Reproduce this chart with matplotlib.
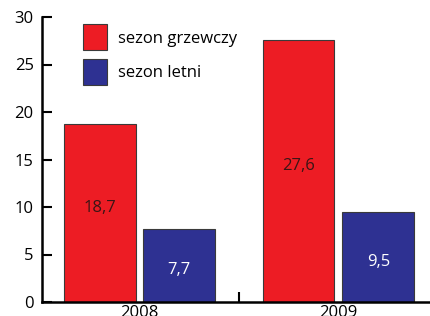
import matplotlib
matplotlib.use("Agg")
import matplotlib.pyplot as plt
import numpy as np

plt.rcParams['font.family'] = ['Open Sans', 'DejaVu Sans']

lata = ['2008', '2009']
grzewczy = [18.7, 27.6]
letni = [7.7, 9.5]
etykiety_g = ['18,7', '27,6']
etykiety_l = ['7,7', '9,5']

czerwony = '#ED1C24'
granat = '#2E3192'

fig = plt.figure(figsize=(4.3, 3.16), dpi=100)
ax = fig.add_axes([42/430, 14/316, 388/430, 285/316])

x = np.arange(len(lata))
w = 0.36
b1 = ax.bar(x - 0.2, grzewczy, w, color=czerwony, edgecolor='#3a3a3a', linewidth=0.8, label='sezon grzewczy')
b2 = ax.bar(x + 0.2, letni, w, color=granat, edgecolor='#3a3a3a', linewidth=0.8, label='sezon letni')

# podpisy w środku słupków
for r, t in zip(b1, etykiety_g):
    ax.text(r.get_x() + r.get_width()/2, r.get_height()/2 + 0.5, t, ha='center', va='center',
            fontsize=12, color='#3a1515')
for r, t in zip(b2, etykiety_l):
    ax.text(r.get_x() + r.get_width()/2, r.get_height()/2 - 0.5, t, ha='center', va='center',
            fontsize=12, color='white')

ax.set_ylim(0, 30)
ax.set_xlim(-0.49, 1.46)
ax.set_yticks([0, 5, 10, 15, 20, 25, 30])
ax.set_xticks(x)
ax.set_xticklabels(lata)
ax.set_xticks([0.5], minor=True)
ax.tick_params(axis='y', direction='in', length=7, width=1.5, labelsize=12, pad=6)
ax.tick_params(axis='x', which='major', length=0, labelsize=12, pad=2)
ax.tick_params(axis='x', which='minor', direction='in', length=7, width=1.5)
for s in ['top', 'right']:
    ax.spines[s].set_visible(False)
for s in ['left', 'bottom']:
    ax.spines[s].set_linewidth(1.8)

ax.legend(loc='upper left', bbox_to_anchor=(0.106, 0.975), frameon=False, fontsize=12,
          handlelength=1.45, handleheight=2.05, labelspacing=0.5, handletextpad=0.65,
          borderpad=0, borderaxespad=0)

fig.savefig('out.png', dpi=100)
